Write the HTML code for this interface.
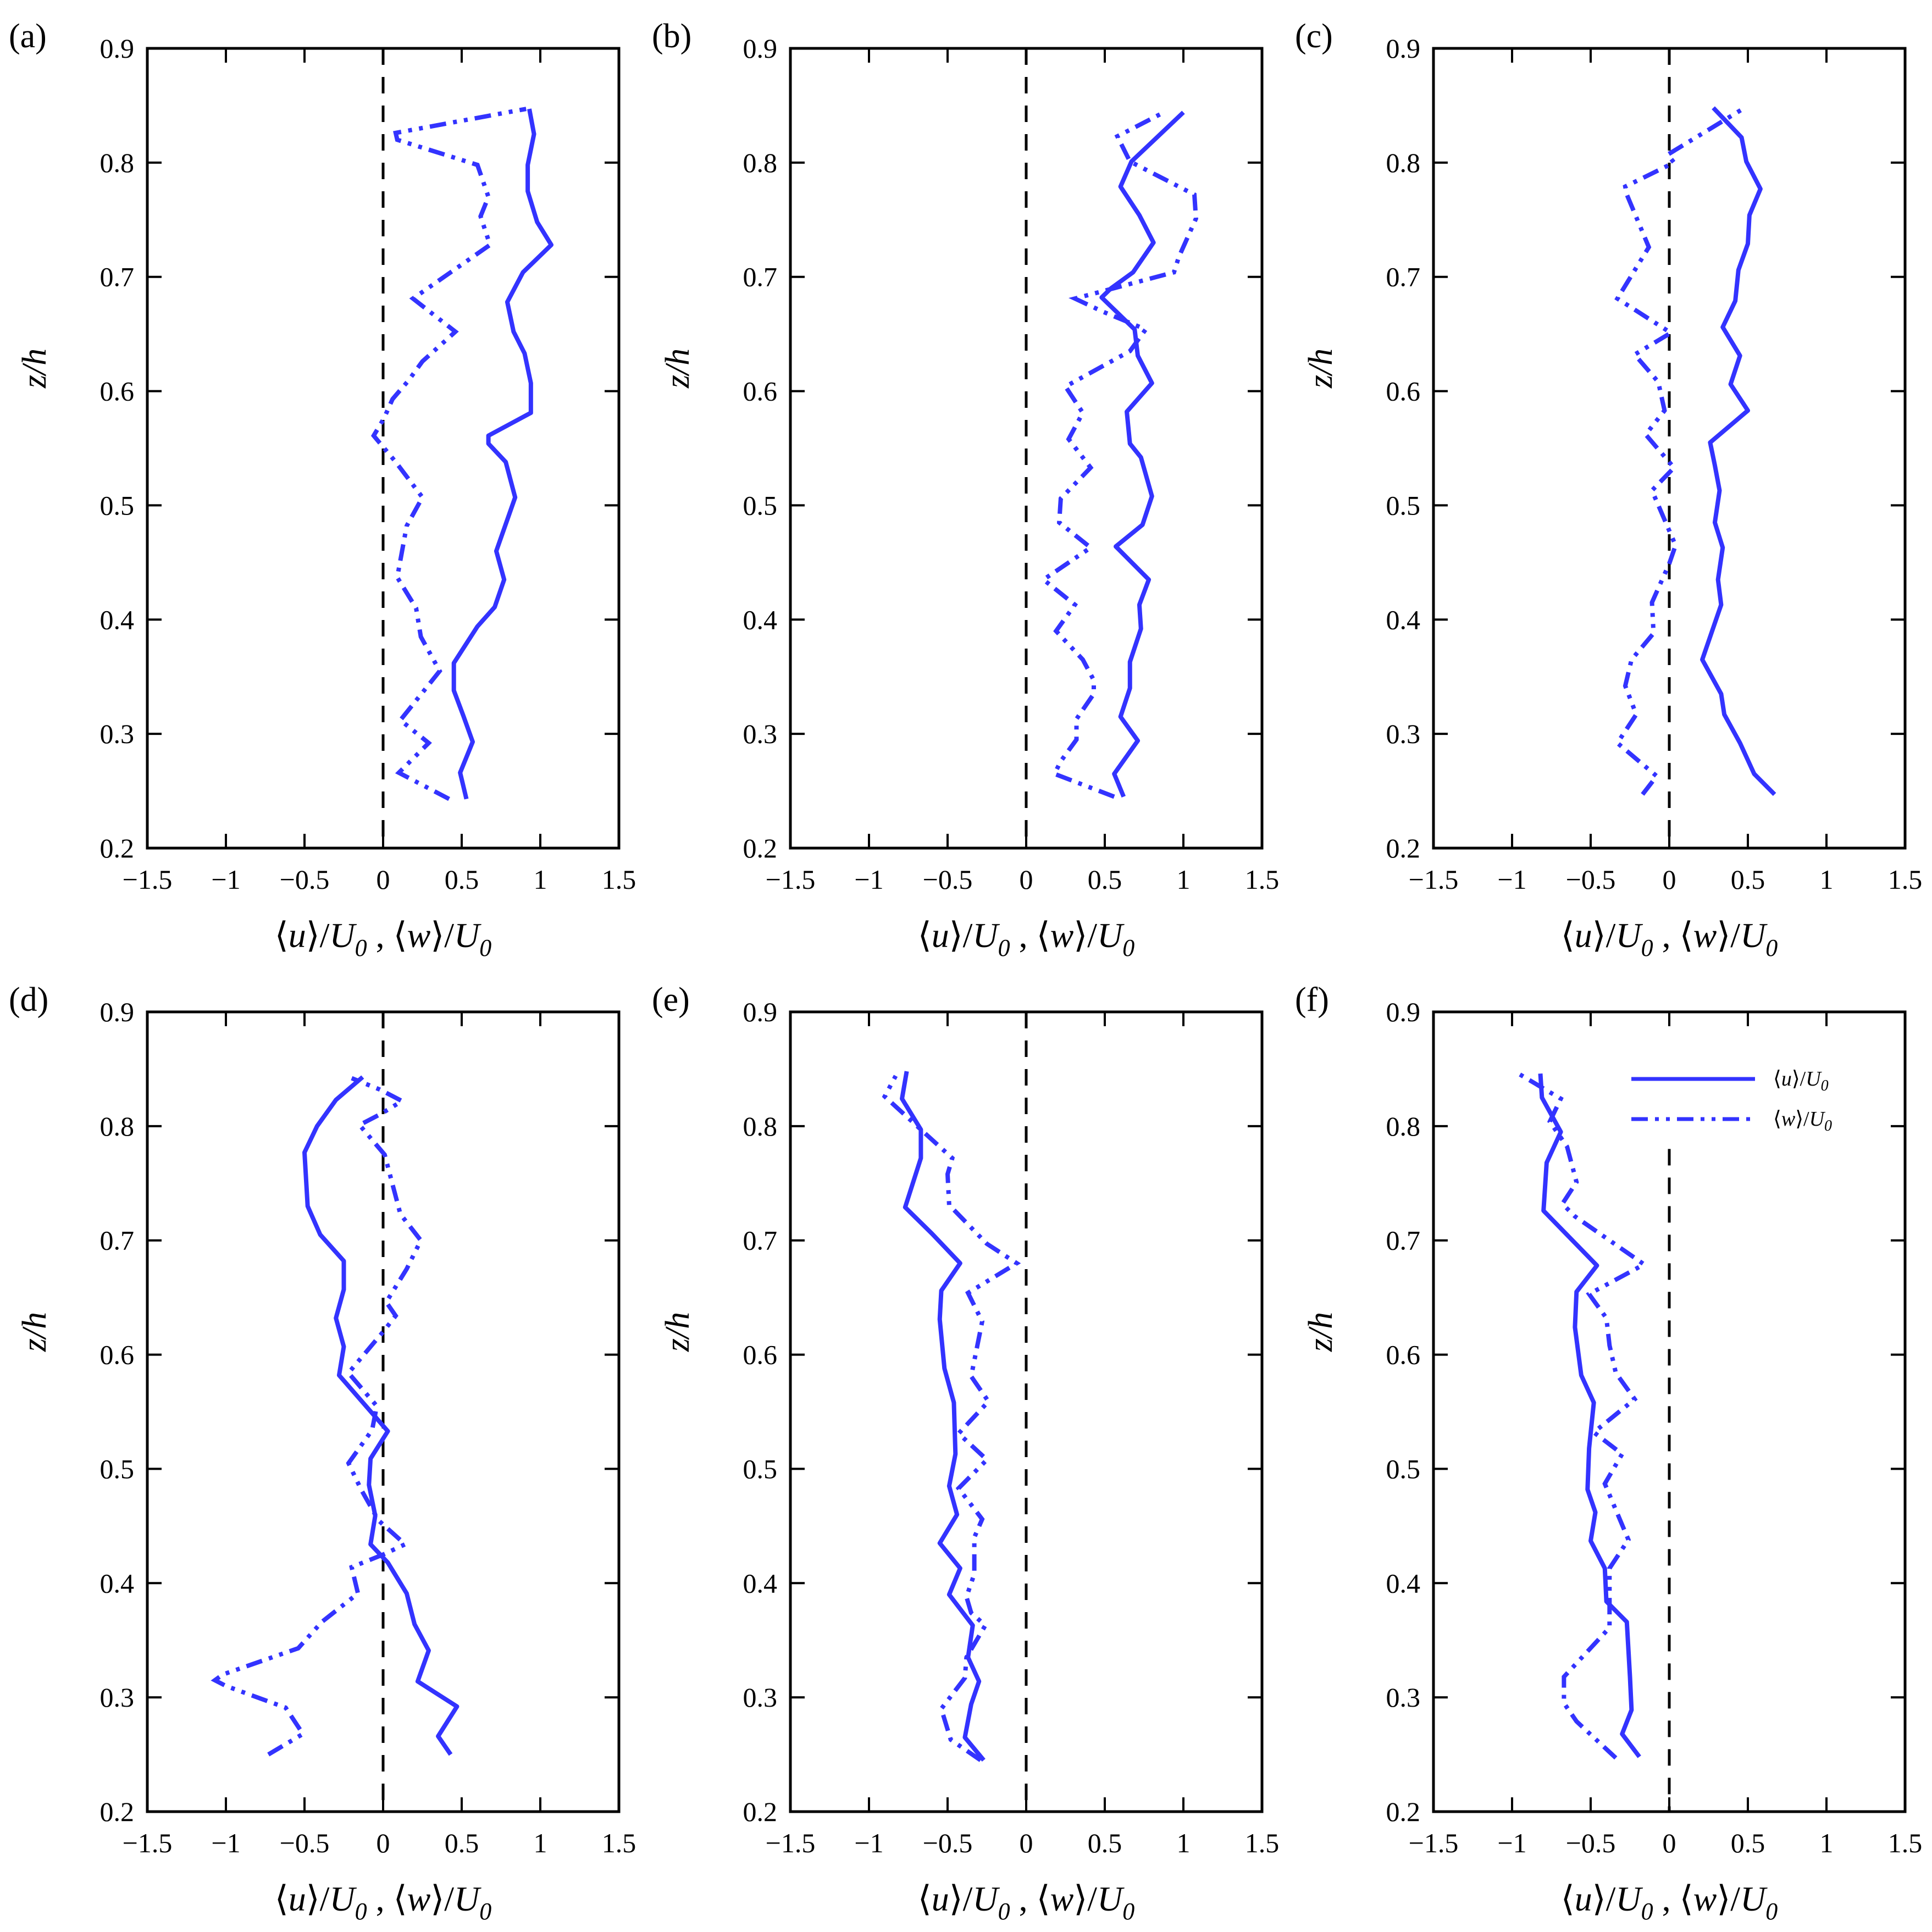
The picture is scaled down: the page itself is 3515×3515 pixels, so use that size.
<!DOCTYPE html>
<html><head><meta charset="utf-8"><style>
html,body{margin:0;padding:0;background:#fff;}
svg{display:block;}
svg text{font-family:"Liberation Serif","Times New Roman",serif !important;fill:#000;}
</style></head><body>
<svg id="fig" width="3515" height="3515" viewBox="0 0 3515 3515" xmlns="http://www.w3.org/2000/svg" font-family="Liberation Serif, serif"></svg>
<script>
// ---- data (z/h, value) per panel ----
const zuA=[0.243,0.266,0.293,0.316,0.338,0.362,0.394,0.411,0.435,0.46,0.507,0.538,0.554,0.561,0.581,0.607,0.633,0.652,0.678,0.704,0.728,0.748,0.775,0.798,0.825,0.847];
const uA=[0.53,0.49,0.57,0.51,0.45,0.45,0.60,0.71,0.77,0.72,0.84,0.78,0.67,0.67,0.94,0.94,0.90,0.83,0.79,0.89,1.07,0.98,0.92,0.92,0.96,0.93];
const zwA=[0.243,0.266,0.292,0.312,0.355,0.385,0.41,0.437,0.482,0.507,0.538,0.561,0.576,0.593,0.609,0.626,0.652,0.681,0.728,0.753,0.77,0.798,0.82,0.826,0.847];
const wA=[0.42,0.10,0.29,0.11,0.36,0.24,0.21,0.09,0.15,0.25,0.08,-0.06,0.005,0.06,0.16,0.25,0.46,0.19,0.68,0.62,0.67,0.60,0.09,0.08,0.91];

const zuB=[0.245,0.265,0.294,0.315,0.34,0.363,0.392,0.413,0.435,0.464,0.483,0.508,0.542,0.554,0.582,0.607,0.631,0.654,0.682,0.69,0.704,0.73,0.754,0.779,0.801,0.844];
const uB=[0.62,0.56,0.71,0.60,0.66,0.66,0.73,0.72,0.78,0.57,0.74,0.80,0.73,0.66,0.64,0.80,0.71,0.69,0.48,0.54,0.68,0.81,0.72,0.60,0.67,1.00];
const zwB=[0.245,0.265,0.276,0.295,0.313,0.335,0.347,0.365,0.39,0.413,0.435,0.463,0.485,0.506,0.533,0.558,0.581,0.604,0.635,0.654,0.67,0.681,0.704,0.717,0.751,0.772,0.801,0.823,0.845];
const wB=[0.56,0.18,0.22,0.32,0.32,0.43,0.43,0.36,0.19,0.31,0.11,0.41,0.21,0.22,0.41,0.27,0.36,0.25,0.66,0.76,0.48,0.31,0.94,0.97,1.08,1.07,0.66,0.58,0.89];

const zuC=[0.247,0.265,0.292,0.317,0.335,0.365,0.413,0.435,0.463,0.485,0.513,0.535,0.555,0.583,0.606,0.631,0.656,0.679,0.706,0.729,0.754,0.777,0.801,0.822,0.848];
const uC=[0.67,0.54,0.45,0.35,0.33,0.21,0.33,0.31,0.34,0.29,0.32,0.29,0.26,0.50,0.39,0.45,0.34,0.42,0.44,0.50,0.51,0.58,0.49,0.46,0.28];
const zwC=[0.247,0.263,0.292,0.317,0.342,0.365,0.388,0.415,0.449,0.465,0.513,0.533,0.562,0.583,0.608,0.632,0.651,0.681,0.726,0.772,0.779,0.8,0.807,0.848];
const wC=[-0.17,-0.08,-0.33,-0.21,-0.28,-0.24,-0.10,-0.11,0.0,0.04,-0.11,0.03,-0.15,-0.03,-0.07,-0.22,0.01,-0.33,-0.13,-0.27,-0.28,0.03,-0.01,0.48];

const zuD=[0.25,0.266,0.292,0.314,0.341,0.364,0.391,0.418,0.434,0.459,0.486,0.509,0.533,0.582,0.607,0.632,0.657,0.682,0.705,0.73,0.777,0.8,0.823,0.843];
const uD=[0.43,0.35,0.47,0.22,0.29,0.20,0.15,0.03,-0.08,-0.05,-0.09,-0.08,0.03,-0.28,-0.25,-0.30,-0.25,-0.25,-0.40,-0.48,-0.50,-0.42,-0.30,-0.13];
const zwD=[0.25,0.268,0.291,0.31,0.315,0.32,0.343,0.366,0.391,0.414,0.425,0.434,0.455,0.482,0.505,0.534,0.555,0.584,0.62,0.634,0.646,0.675,0.7,0.723,0.775,0.801,0.811,0.822,0.832,0.842];
const wD=[-0.73,-0.51,-0.62,-1.0,-1.07,-1.02,-0.54,-0.39,-0.16,-0.20,0.0,0.14,-0.03,-0.14,-0.22,-0.07,-0.04,-0.22,0.0,0.08,0.02,0.15,0.24,0.11,0.01,-0.15,-0.01,0.12,-0.02,-0.20];

const zuE=[0.245,0.265,0.294,0.314,0.335,0.363,0.39,0.413,0.435,0.46,0.485,0.513,0.558,0.588,0.631,0.656,0.68,0.706,0.729,0.772,0.797,0.824,0.848];
const uE=[-0.27,-0.39,-0.35,-0.30,-0.37,-0.34,-0.49,-0.42,-0.55,-0.44,-0.49,-0.45,-0.46,-0.52,-0.55,-0.54,-0.42,-0.60,-0.77,-0.67,-0.67,-0.79,-0.76];
const zwE=[0.245,0.263,0.29,0.317,0.335,0.363,0.374,0.388,0.408,0.44,0.456,0.483,0.508,0.531,0.559,0.581,0.629,0.654,0.68,0.697,0.731,0.758,0.772,0.797,0.826,0.844];
const wE=[-0.29,-0.48,-0.54,-0.39,-0.38,-0.26,-0.35,-0.38,-0.33,-0.33,-0.28,-0.43,-0.25,-0.43,-0.24,-0.35,-0.28,-0.37,-0.06,-0.25,-0.49,-0.50,-0.47,-0.67,-0.90,-0.83];

const zuF=[0.248,0.268,0.289,0.318,0.366,0.384,0.413,0.437,0.462,0.482,0.518,0.558,0.582,0.624,0.655,0.678,0.726,0.768,0.795,0.825,0.846];
const uF=[-0.19,-0.30,-0.24,-0.25,-0.27,-0.40,-0.41,-0.50,-0.47,-0.52,-0.51,-0.48,-0.56,-0.60,-0.59,-0.46,-0.80,-0.78,-0.69,-0.81,-0.82];
const zwF=[0.247,0.279,0.295,0.318,0.361,0.371,0.413,0.438,0.487,0.513,0.532,0.561,0.584,0.608,0.632,0.653,0.679,0.721,0.732,0.751,0.782,0.804,0.824,0.846];
const wF=[-0.34,-0.59,-0.67,-0.67,-0.38,-0.38,-0.38,-0.26,-0.41,-0.30,-0.48,-0.22,-0.34,-0.38,-0.40,-0.51,-0.16,-0.60,-0.68,-0.59,-0.65,-0.76,-0.69,-0.96];

const xTicks=[-1.5,-1,-0.5,0,0.5,1,1.5];
const xTickLabels=["\u22121.5","\u22121","\u22120.5","0","0.5","1","1.5"];
const yTicks=[0.2,0.3,0.4,0.5,0.6,0.7,0.8,0.9];
const yTickLabels=["0.2","0.3","0.4","0.5","0.6","0.7","0.8","0.9"];
const panelLetters=["a","b","c","d","e","f"];

const NS="http://www.w3.org/2000/svg";
const svg=document.getElementById('fig');
const FF="Liberation Serif, Times New Roman, serif";
function mk(tag,attrs,parent){const e=document.createElementNS(NS,tag);for(const k in attrs)e.setAttribute(k,attrs[k]);if(tag==='text')e.setAttribute('font-family',FF);(parent||svg).appendChild(e);return e;}

const lefts=[268,1438,2608], tops=[88,1841], W=858, H=1455;
const panels=[[zuA,uA,zwA,wA],[zuB,uB,zwB,wB],[zuC,uC,zwC,wC],[zuD,uD,zwD,wD],[zuE,uE,zwE,wE],[zuF,uF,zwF,wF]];
const BLUE="#3333ff";

panels.forEach((p,i)=>{
  const L=lefts[i%3], T=tops[Math.floor(i/3)];
  const xs=v=>L+(v+1.5)/3*W;
  const ys=v=>T+(0.9-v)/0.7*H;
  const g=mk('g',{});
  
  
  const pl=mk('text',{x:L-252,y:T-2,'font-size':62},g);
  pl.textContent='('+panelLetters[i]+')';
  
  
  const zl=mk('line',{x1:xs(0),x2:xs(0),y1:(i==5?ys(0.78):T),y2:T+H,stroke:'#000','stroke-width':5,'stroke-dasharray':'30 22'},g);
  
  
  xTicks.forEach((t,k)=>{
    mk('line',{x1:xs(t),x2:xs(t),y1:T+H,y2:T+H-26,stroke:'#000','stroke-width':4},g);
    mk('line',{x1:xs(t),x2:xs(t),y1:T,y2:T+26,stroke:'#000','stroke-width':4},g);
    const tl=mk('text',{x:xs(t),y:T+H+74,'font-size':50,'text-anchor':'middle'},g);
    tl.textContent=xTickLabels[k];
    
    
  });
  yTicks.forEach((t,k)=>{
    mk('line',{x1:L,x2:L+26,y1:ys(t),y2:ys(t),stroke:'#000','stroke-width':4},g);
    mk('line',{x1:L+W,x2:L+W-26,y1:ys(t),y2:ys(t),stroke:'#000','stroke-width':4},g);
    const tl=mk('text',{x:L-24,y:ys(t)+17,'font-size':50,'text-anchor':'end'},g);
    tl.textContent=yTickLabels[k];
    
    
  });
  const pu=mk('polyline',{points:p[0].map((z,k)=>xs(p[1][k])+','+ys(z)).join(' '),fill:'none',stroke:BLUE,'stroke-width':8,'stroke-linejoin':'round'},g);
  
  
  const pw=mk('polyline',{points:p[2].map((z,k)=>xs(p[3][k])+','+ys(z)).join(' '),fill:'none',stroke:BLUE,'stroke-width':8,'stroke-dasharray':'30 13 7 13 7 13'},g);
  
  
  const fr=mk('rect',{x:L,y:T,width:W,height:H,fill:'none',stroke:'#000','stroke-width':5},g);
  
  
  const xt=mk('text',{x:L+W/2,y:T+H+180,'font-size':64,'text-anchor':'middle'},g);
  xt.innerHTML='\u27E8<tspan font-style="italic">u</tspan>\u27E9/<tspan font-style="italic">U</tspan><tspan font-style="italic" font-size="44" dy="16">0</tspan><tspan dy="-16"> , \u27E8</tspan><tspan font-style="italic">w</tspan>\u27E9/<tspan font-style="italic">U</tspan><tspan font-style="italic" font-size="44" dy="16">0</tspan>';
  
  
  const yt=mk('text',{x:0,y:0,'font-size':62,'text-anchor':'middle','font-style':'italic',transform:'translate('+(L-185)+','+(T+H*0.4)+') rotate(-90)'},g);
  yt.textContent='z/h';
  
  
});

const lg=mk('g',{});


mk('line',{x1:2968,x2:3193,y1:1963,y2:1963,stroke:BLUE,'stroke-width':7},lg);
mk('line',{x1:2968,x2:3193,y1:2036,y2:2036,stroke:BLUE,'stroke-width':7,'stroke-dasharray':'30 13 7 13 7 13'},lg);
const l1=mk('text',{x:3226,y:1975,'font-size':38},lg);
l1.innerHTML='\u27E8<tspan font-style="italic">u</tspan>\u27E9/<tspan font-style="italic">U</tspan><tspan font-style="italic" font-size="28" dy="9">0</tspan>';


const l2=mk('text',{x:3226,y:2048,'font-size':38},lg);
l2.innerHTML='\u27E8<tspan font-style="italic">w</tspan>\u27E9/<tspan font-style="italic">U</tspan><tspan font-style="italic" font-size="28" dy="9">0</tspan>';


</script>
</body></html>
